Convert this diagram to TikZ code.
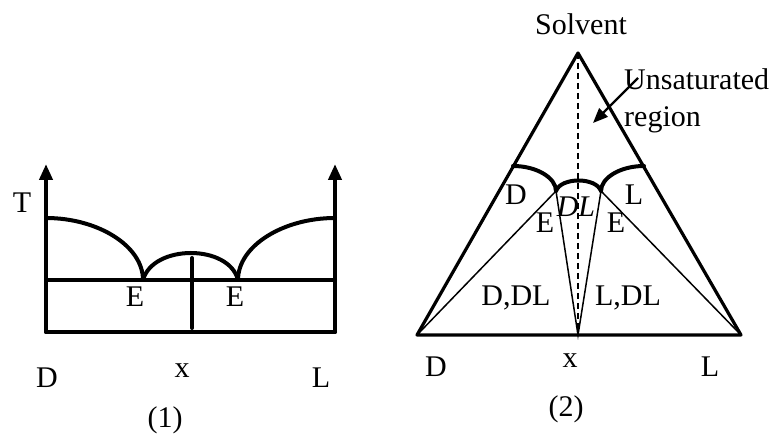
\documentclass[tikz,border=0pt]{standalone}
\usepackage{fontspec}
\setmainfont{Liberation Serif}
\usetikzlibrary{arrows.meta}

\begin{document}
\begin{tikzpicture}[
    x=1pt, y=-1pt,
    >={Triangle[length=16pt,width=13pt]},
]
\tikzset{
    heavy/.style={line width=4pt, line cap=round, line join=round},
    outline/.style={line width=3.2pt, line join=round},
    tie/.style={line width=1.5pt},
    lbl/.style={anchor=base, inner sep=0pt, font=\fontsize{30}{33}\selectfont},
}
\useasboundingbox (0,0) rectangle (772,435);

% (1) temperature-composition diagram
\coordinate (axD) at (46,332);
\coordinate (axL) at (335,332);
\coordinate (topD) at (46,164);
\coordinate (topL) at (335,164);
\coordinate (meltD) at (46,218);
\coordinate (meltL) at (335,218);
\coordinate (eutD) at (143,280);
\coordinate (eutL) at (238,280);

\draw[heavy] (axD) -- (axL);
\draw[heavy, ->] (axD) -- (topD);
\draw[heavy, ->] (axL) -- (topL);
\draw[heavy] (46,280) -- (335,280);
\draw[heavy] (meltD) .. controls (98,218) and (143,246) .. (eutD);
\draw[heavy] (eutD) .. controls (153,244) and (229,244) .. (eutL);
\draw[heavy] (eutL) .. controls (238,246) and (283,218) .. (meltL);
\draw[heavy] (192,258) -- (192,328);

\node[lbl] (tLbl) at (22,213) {T};
\node[lbl] (eD) at (135,307) {E};
\node[lbl] (eL) at (235,307) {E};
\node[lbl] (dLeft) at (47,388) {D};
\node[lbl] (xLeft) at (182,378) {x};
\node[lbl] (lLeft) at (321,388) {L};
\node[lbl] (capOne) at (165,428) {(1)};

% (2) ternary diagram with the solvent
\coordinate (apex) at (578,53);
\coordinate (cornD) at (417,335);
\coordinate (cornL) at (741,335);
\coordinate (mid) at (578,335);
\coordinate (sideD) at (513,166);
\coordinate (sideL) at (644,166);
\coordinate (pE1) at (556,191);
\coordinate (pE2) at (601,191);

\draw[outline] (cornD) -- (apex) -- (cornL) -- cycle;
\draw[line width=1.6pt, dash pattern=on 6pt off 4pt] (apex) -- (mid);
\draw[heavy] (sideD) .. controls (537,166) and (556,178) .. (pE1);
\draw[heavy] (pE1) .. controls (561,177) and (596,177) .. (pE2);
\draw[heavy] (pE2) .. controls (601,178) and (620,166) .. (sideL);
\draw[tie] (cornD) -- (pE1) -- (mid) -- (pE2) -- (cornL);

\node[lbl] (solv) at (581,35) {Solvent};
\node[lbl, anchor=base west] (unsat) at (624,90) {Unsaturated};
\node[lbl, anchor=base west] (regn) at (624,127) {region};
\coordinate (arrTail) at (638,78);
\coordinate (arrHead) at (593,123);
\draw[line width=2.2pt, -{Triangle[length=15pt,width=12pt]}] (arrTail) -- (arrHead);

\node[lbl] (dSolid) at (516,205) {D};
\node[lbl] (lSolid) at (634,205) {L};
\node[lbl] (dlSolid) at (576,217) {\itshape DL};
\node[lbl] (e1) at (545,233) {E};
\node[lbl] (e2) at (616,233) {E};
\node[lbl] (dPair) at (516,306) {D,DL};
\node[lbl] (lPair) at (628,306) {L,DL};
\node[lbl] (dRight) at (436,377) {D};
\node[lbl] (xRight) at (570,368) {x};
\node[lbl] (lRight) at (710,377) {L};
\node[lbl] (capTwo) at (566,417) {(2)};

\end{tikzpicture}
\end{document}
